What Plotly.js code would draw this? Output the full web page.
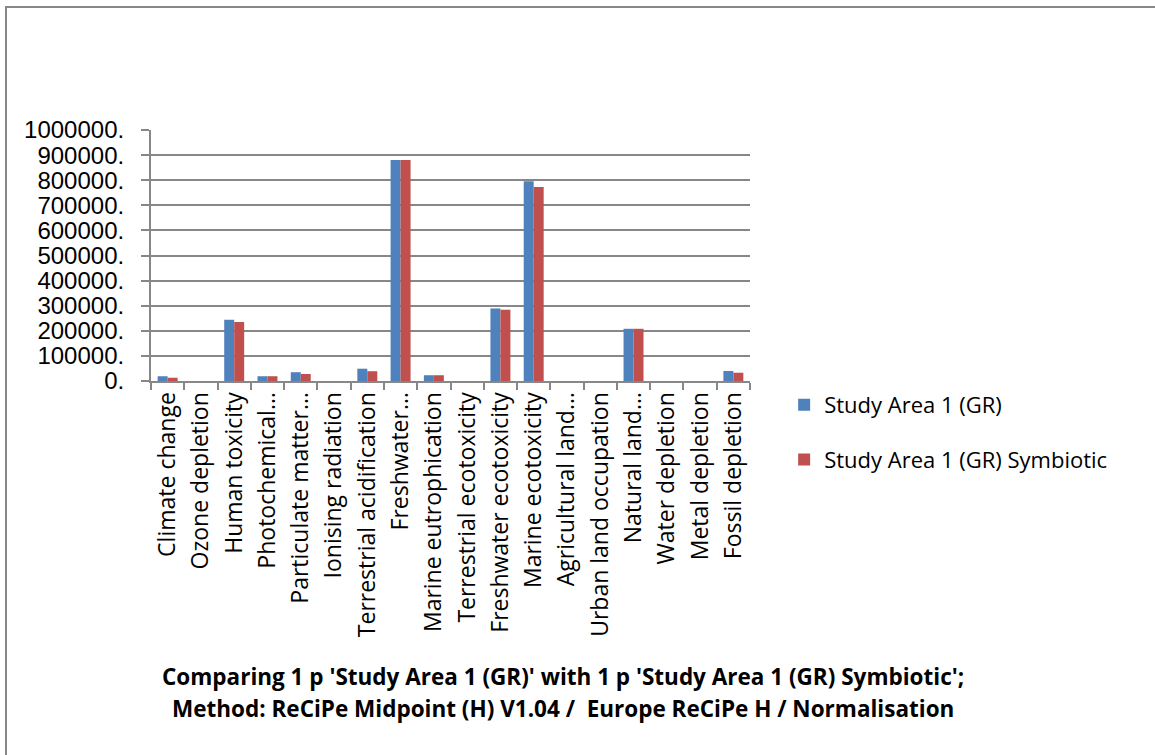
<!DOCTYPE html>
<html>
<head>
<meta charset="utf-8">
<script src="https://cdn.plot.ly/plotly-3.0.1.min.js"></script>
<style>
  html, body { margin: 0; padding: 0; background: #ffffff; }
  #wrap { position: relative; width: 1155px; height: 755px; overflow: hidden; }
  #chart { position: absolute; left: 0; top: 0; width: 1155px; height: 755px; }
  #frame { position: absolute; left: 5px; top: 6px; width: 1200px; height: 800px;
           border-left: 2px solid #888888; border-top: 2px solid #888888; pointer-events: none; }
</style>
</head>
<body>
<div id="wrap">
  <div id="chart"></div>
  <div id="frame"></div>
</div>
<script>
const categories = [
  "Climate change", "Ozone depletion", "Human toxicity", "Photochemical\u2026",
  "Particulate matter\u2026", "Ionising radiation", "Terrestrial acidification",
  "Freshwater\u2026", "Marine eutrophication", "Terrestrial ecotoxicity",
  "Freshwater ecotoxicity", "Marine ecotoxicity", "Agricultural land\u2026",
  "Urban land occupation", "Natural land\u2026", "Water depletion",
  "Metal depletion", "Fossil depletion"
];
const seriesNames = ["Study Area 1 (GR)", "Study Area 1 (GR) Symbiotic"];
const studyArea = [19000, 0, 244000, 19000, 35000, 0, 49000, 880000, 23000, 0, 289000, 796000, 0, 0, 208000, 0, 0, 40000];
const symbiotic = [13000, 0, 235000, 19000, 28000, 0, 39000, 880000, 23000, 0, 284000, 773000, 0, 0, 208000, 0, 0, 33000];
const yTickVals = [0, 100000, 200000, 300000, 400000, 500000, 600000, 700000, 800000, 900000, 1000000];
const yTickText = ["0.", "100000.", "200000.", "300000.", "400000.", "500000.", "600000.", "700000.", "800000.", "900000.", "1000000."];
const titleLines = [
  "Comparing 1 p 'Study Area 1 (GR)' with 1 p 'Study Area 1 (GR) Symbiotic';",
  "Method: ReCiPe Midpoint (H) V1.04 /  Europe ReCiPe H / Normalisation"
];

const labelFont = "Open Sans, Noto Sans, sans-serif";
const gridColor = "#878787";

const traces = [
  { type: "bar", name: seriesNames[0], x: categories, y: studyArea,
    marker: { color: "#4F81BD" }, legendgroup: "a" },
  { type: "bar", name: seriesNames[1], x: categories, y: symbiotic,
    marker: { color: "#C0504D" }, legendgroup: "b" }
];

const layout = {
  width: 1155, height: 755,
  paper_bgcolor: "#ffffff", plot_bgcolor: "#ffffff",
  margin: { l: 151, r: 405, t: 130, b: 374 },
  barmode: "group", bargap: 0.4, bargroupgap: 0,
  showlegend: true,
  legend: {
    x: 1.057, xanchor: "left", y: -0.012, yanchor: "top",
    traceorder: "grouped", tracegroupgap: 23,
    font: { family: labelFont, size: 22, color: "#000000" },
    bgcolor: "rgba(0,0,0,0)"
  },
  xaxis: {
    type: "category",
    showline: true, linecolor: gridColor, linewidth: 2,
    ticks: "outside", tickson: "boundaries", ticklen: 7, tickcolor: gridColor, tickwidth: 2,
    tickangle: -90,
    tickfont: { family: labelFont, size: 23, color: "#000000" },
    showgrid: false, zeroline: false, fixedrange: true
  },
  yaxis: {
    range: [0, 1000000],
    tickmode: "array", tickvals: yTickVals, ticktext: yTickText,
    showline: true, linecolor: gridColor, linewidth: 2,
    ticks: "outside", ticklen: 8, tickcolor: gridColor, tickwidth: 2,
    ticklabelstandoff: 12,
    tickfont: { family: "Liberation Sans, Arial, sans-serif", size: 24, color: "#000000" },
    showgrid: true, gridcolor: gridColor, gridwidth: 2,
    zeroline: false, fixedrange: true
  },
  annotations: [
    { text: "<b>" + titleLines[0] + "</b>", xref: "paper", yref: "paper",
      x: 0.688, y: -1.176, xanchor: "center", yanchor: "middle", showarrow: false,
      font: { family: labelFont, size: 22.5, color: "#000000" } },
    { text: "<b>" + titleLines[1] + "</b>", xref: "paper", yref: "paper",
      x: 0.688, y: -1.303, xanchor: "center", yanchor: "middle", showarrow: false,
      font: { family: labelFont, size: 22.5, color: "#000000" } }
  ]
};

Plotly.newPlot("chart", traces, layout, { displayModeBar: false, staticPlot: true });
</script>
</body>
</html>
